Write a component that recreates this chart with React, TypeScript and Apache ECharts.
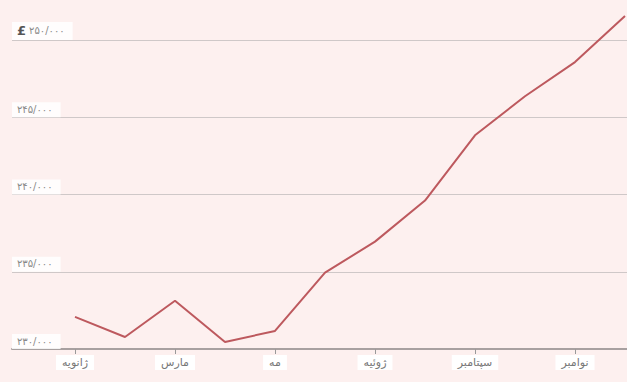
import React, { useEffect, useRef } from "react";
import * as echarts from "echarts";

const months = ["ژانویه", "فوریه", "مارس", "آوریل", "مه", "ژوئن", "ژوئیه", "اوت", "سپتامبر", "اکتبر", "نوامبر", "دسامبر"];
const values = [232080, 230780, 233120, 230450, 231170, 234940, 236950, 239610, 243830, 246360, 248570, 251560];
const labeledMonths = [0, 2, 4, 6, 8, 10];
const yTicks = [230000, 235000, 240000, 245000, 250000];

const toFa = (n: number) => {
  const s = String(n).replace(/\B(?=(\d{3})+(?!\d))/g, "/");
  return s.replace(/\d/g, (d) => "۰۱۲۳۴۵۶۷۸۹"[+d]);
};

export default function App() {
  const ref = useRef<HTMLDivElement>(null);
  useEffect(() => {
    const chart = echarts.init(ref.current!, undefined, { renderer: "svg" });
    chart.setOption({
      animation: false,
      backgroundColor: "#fdf0ef",
      grid: { left: 12, right: 0, top: 40, bottom: 33 },
      xAxis: {
        type: "value",
        min: -1.26,
        max: 11.04,
        splitLine: { show: false },
        axisLine: { show: true, lineStyle: { color: "#a8a0a0", width: 2 } },
        axisTick: { show: true, customValues: labeledMonths, length: 5, lineStyle: { color: "#999" } },
        axisLabel: {
          customValues: labeledMonths,
          formatter: (v: number) => months[Math.round(v)] ?? "",
          color: "#777",
          fontSize: 11,
          fontFamily: "DejaVu Sans",
          backgroundColor: "#ffffff",
          padding: [2, 6, 2, 6],
          margin: 6,
        },
      },
      yAxis: {
        type: "value",
        min: yTicks[0],
        max: yTicks[yTicks.length - 1],
        interval: 5000,
        axisLine: { show: false },
        axisTick: { show: false },
        splitLine: { show: true, lineStyle: { color: "#cfc8c8", width: 1 } },
        axisLabel: {
          inside: true,
          margin: 0,
          verticalAlign: "bottom",
          align: "left",
          color: "#888",
          fontSize: 10,
          fontFamily: "DejaVu Sans",
          backgroundColor: "rgba(255,255,255,0.85)",
          padding: [2, 8, 3, 5],
          formatter: (v: number) =>
            v === yTicks[yTicks.length - 1] ? "{p|£}" + toFa(v) : toFa(v),
          rich: {
            p: { fontSize: 13, color: "#555", fontWeight: "bold", fontFamily: "DejaVu Sans", padding: [0, 3, 0, 0] },
          },
        },
      },
      series: [
        {
          type: "line",
          data: values.map((v, i) => [i, v]),
          symbol: "none",
          clip: false,
          lineStyle: { color: "#bd595e", width: 2 },
        },
      ],
    });
    return () => chart.dispose();
  }, []);
  return <div ref={ref} style={{ position: "fixed", left: 0, top: 0, width: 627, height: 382 }} />;
}
